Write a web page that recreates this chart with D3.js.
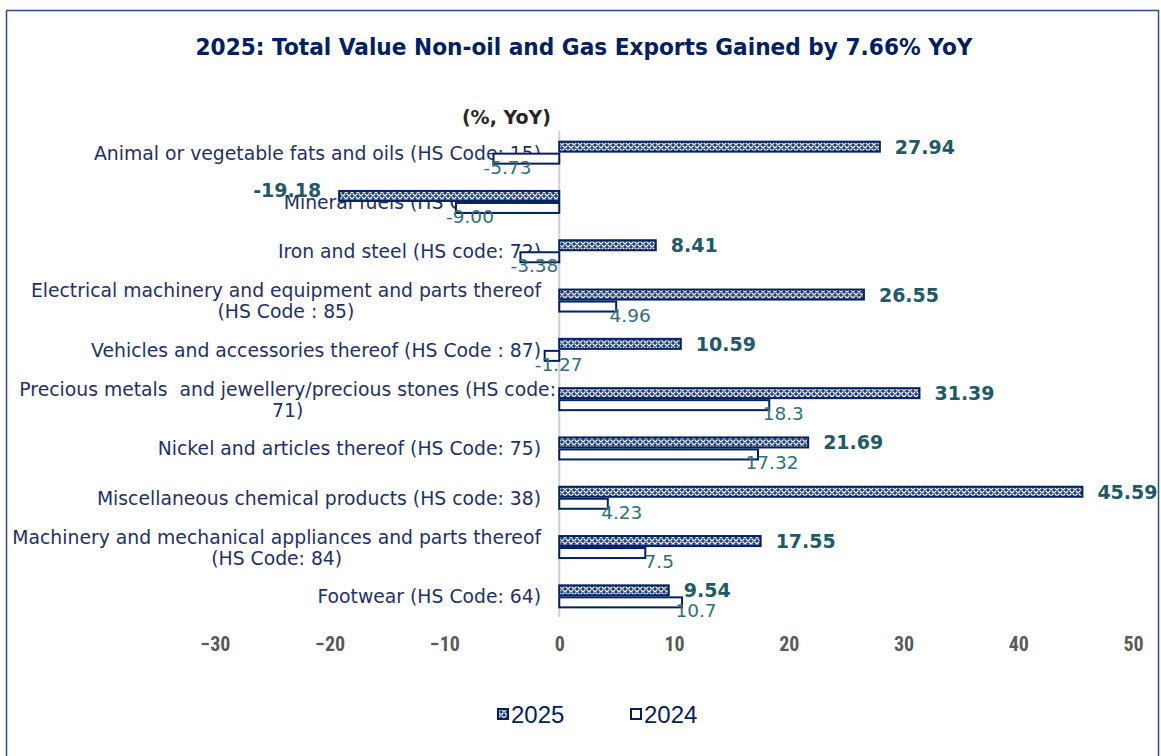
<!DOCTYPE html>
<meta charset="utf-8" />
<style>
  body { margin: 0; background: #fff; }
  svg { display: block; }
  .cat { font-family: "DejaVu Sans", Verdana, sans-serif; font-size: 18.8px; fill: #1f3068; white-space: pre; }
  .tick text { font-family: "Liberation Sans Narrow", "Roboto Condensed", "Liberation Sans", sans-serif; font-weight: bold; font-size: 20px; fill: #595959; }
  .lab25 { font-family: "DejaVu Sans", Verdana, sans-serif; font-weight: bold; font-size: 19px; fill: #215967; }
  .lab24 { font-family: "DejaVu Sans", Verdana, sans-serif; font-size: 18.5px; fill: #327079; }
</style>
<body>
<script src="https://d3js.org/d3.v7.min.js"></script>
<script>
// data
var categories = [
  "Animal or vegetable fats and oils (HS Code: 15)",
  "Mineral fuels (HS Code: 27)",
  "Iron and steel (HS code: 72)",
  "Electrical machinery and equipment and parts thereof\n(HS Code : 85)",
  "Vehicles and accessories thereof (HS Code : 87)",
  "Precious metals  and jewellery/precious stones (HS code:\n71)",
  "Nickel and articles thereof (HS Code: 75)",
  "Miscellaneous chemical products (HS code: 38)",
  "Machinery and mechanical appliances and parts thereof\n(HS Code: 84)",
  "Footwear (HS Code: 64)"
];
var values2025 = [27.94, -19.18, 8.41, 26.55, 10.59, 31.39, 21.69, 45.59, 17.55, 9.54];
var values2024 = [-5.73, -9.00, -3.38, 4.96, -1.27, 18.3, 17.32, 4.23, 7.5, 10.7];
var labels2025 = ["27.94", "-19.18", "8.41", "26.55", "10.59", "31.39", "21.69", "45.59", "17.55", "9.54"];
var labels2024 = ["-5.73", "-9.00", "-3.38", "4.96", "-1.27", "18.3", "17.32", "4.23", "7.5", "10.7"];
var series = ["2025", "2024"];
var xTicks = [-30, -20, -10, 0, 10, 20, 30, 40, 50];

var width = 1161, height = 756;
var navy = "#002060";

var svg = d3.select("body").append("svg")
  .attr("width", width)
  .attr("height", height);

// pattern for the 2025 bars: small white crosses on navy
var defs = svg.append("defs");
var pat = defs.append("pattern")
  .attr("id", "checker")
  .attr("patternUnits", "userSpaceOnUse")
  .attr("width", 6).attr("height", 6);
pat.append("rect").attr("width", 6).attr("height", 6).attr("fill", "#6f86b4");
pat.append("rect").attr("x", 0).attr("y", 0).attr("width", 2).attr("height", 2).attr("fill", "#233f7d");
pat.append("rect").attr("x", 3).attr("y", 3).attr("width", 2).attr("height", 2).attr("fill", "#233f7d");
pat.append("path")
  .attr("d", "M3,0h2v1h-2zM0,3h2v1h-2z")
  .attr("fill", "#f4f6fb");
pat.append("path")
  .attr("d", "M2,2h1v1h-1zM5,5h1v1h-1zM5,2h1v1h-1zM2,5h1v1h-1z")
  .attr("fill", "#ffffff");

// frame
svg.append("rect")
  .attr("x", 6.5).attr("y", 10.5)
  .attr("width", 1152).attr("height", 760)
  .attr("fill", "none")
  .attr("stroke", "#2f4a80")
  .attr("stroke-width", 1.5);

// title
svg.append("text")
  .attr("x", 584).attr("y", 55)
  .attr("text-anchor", "middle")
  .style("font-family", "'DejaVu Sans', Tahoma, sans-serif")
  .style("font-weight", "bold")
  .style("font-size", "23px")
  .style("fill", navy)
  .attr("textLength", 777)
  .attr("lengthAdjust", "spacingAndGlyphs")
  .text("2025: Total Value Non-oil and Gas Exports Gained by 7.66% YoY");

svg.append("text")
  .attr("x", 551).attr("y", 124)
  .attr("text-anchor", "end")
  .style("font-family", "'DejaVu Sans', Verdana, sans-serif")
  .style("font-weight", "bold")
  .style("font-size", "19px")
  .style("fill", "#262626")
  .text("(%, YoY)");

var x = d3.scaleLinear().domain([-30, 50]).range([215, 1133]);
var y = d3.scaleBand().domain(categories).range([128, 621]);
var ySub = d3.scaleBand().domain(series).range([0, 24]);

// category labels (drawn under the bars)
var catG = svg.append("g");
categories.forEach(function(c) {
  var lines = c.split("\n");
  var t = catG.append("text")
    .attr("class", "cat")
    .attr("text-anchor", "middle");
  var cy = y(c) + y.bandwidth() / 2;
  var lh = 21;
  lines.forEach(function(l, i) {
    t.append("tspan")
      .attr("y", cy + 7 + (i - (lines.length - 1) / 2) * lh)
      .text(l);
  });
  var maxW = 0;
  t.selectAll("tspan").each(function() {
    maxW = Math.max(maxW, this.getComputedTextLength());
  });
  var right = lines.length > 1 && lines[0].length > 54 ? 556 : 541;
  t.selectAll("tspan").attr("x", right - maxW / 2);
});

// x axis labels
var xAxis = d3.axisBottom(x).tickValues(xTicks).tickSize(0).tickPadding(0);
var ax = svg.append("g")
  .attr("transform", "translate(0,637)")
  .call(xAxis);
ax.select(".domain").remove();
ax.selectAll(".tick text").attr("dy", "0.71em");

// zero line
svg.append("line")
  .attr("x1", x(0)).attr("x2", x(0))
  .attr("y1", 131).attr("y2", 617)
  .attr("stroke", "#d0d0d0")
  .attr("stroke-width", 2);

var rows = categories.map(function(c, i) {
  return { cat: c, v25: values2025[i], v24: values2024[i], l25: labels2025[i], l24: labels2024[i] };
});

// bars
svg.append("g").selectAll("rect")
  .data(rows)
  .join("rect")
  .attr("x", function(d) { return Math.min(x(0), x(d.v25)); })
  .attr("y", function(d) { return y(d.cat) + y.bandwidth() / 2 - 12 + ySub("2025") + 1; })
  .attr("width", function(d) { return Math.abs(x(d.v25) - x(0)); })
  .attr("height", ySub.bandwidth() - 2)
  .attr("fill", "url(#checker)")
  .attr("stroke", navy)
  .attr("stroke-width", 2);

svg.append("g").selectAll("rect")
  .data(rows)
  .join("rect")
  .attr("x", function(d) { return Math.min(x(0), x(d.v24)); })
  .attr("y", function(d) { return y(d.cat) + y.bandwidth() / 2 - 12 + ySub("2024") + 1; })
  .attr("width", function(d) { return Math.abs(x(d.v24) - x(0)); })
  .attr("height", ySub.bandwidth() - 2)
  .attr("fill", "#fff")
  .attr("stroke", navy)
  .attr("stroke-width", 2);

// value labels
svg.append("g").selectAll("text")
  .data(rows)
  .join("text")
  .attr("class", "lab25")
  .attr("x", function(d) { return d.v25 >= 0 ? x(d.v25) + 15 : x(d.v25) - 18; })
  .attr("y", function(d) { return y(d.cat) + y.bandwidth() / 2 + (d.v25 >= 0 ? 1 : -5); })
  .attr("text-anchor", function(d) { return d.v25 >= 0 ? "start" : "end"; })
  .text(function(d) { return d.l25; });

svg.append("g").selectAll("text")
  .data(rows)
  .join("text")
  .attr("class", "lab24")
  .attr("x", function(d) { return x(d.v24) + 14; })
  .attr("y", function(d) { return y(d.cat) + y.bandwidth() / 2 + 21; })
  .attr("text-anchor", "middle")
  .text(function(d) { return d.l24; });

// legend
var legend = svg.append("g").attr("transform", "translate(497,708)");
series.forEach(function(s, i) {
  var g = legend.append("g").attr("transform", "translate(" + (i * 133) + ",0)");
  g.append("rect")
    .attr("x", 1).attr("y", 1)
    .attr("width", 10).attr("height", 10)
    .attr("fill", s === "2025" ? "url(#checker)" : "#fff")
    .attr("stroke", navy)
    .attr("stroke-width", 2);
  g.append("text")
    .attr("x", 14).attr("y", 15)
    .style("font-family", "'Liberation Sans Narrow', 'Liberation Sans', sans-serif")
    .style("font-size", "24px")
    .style("fill", navy)
    .text(s);
});
</script>
</body>
